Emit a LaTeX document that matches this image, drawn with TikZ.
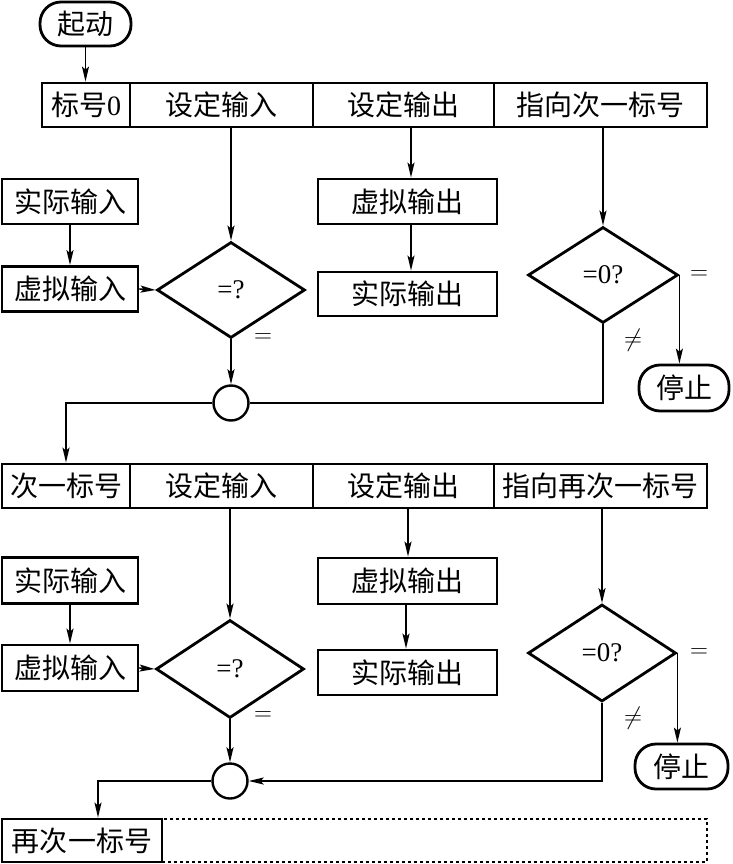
\documentclass[tikz,border=0pt]{standalone}
\usepackage{fontspec}
\setmainfont{Liberation Serif}
\newfontfamily\cjk{Noto Sans CJK SC}
\usetikzlibrary{arrows.meta,shapes.geometric}
\tikzset{
  box/.style={draw, line width=2.8pt, inner sep=0pt, font=\cjk\fontsize{28}{30}\selectfont},
  term/.style={box, rounded corners=21pt},
  dec/.style={diamond, draw, line width=2.8pt, inner sep=0pt, font=\fontsize{27}{27}\selectfont},
  junc/.style={circle, draw, line width=2.4pt, minimum size=35pt, inner sep=0pt},
  arr/.style={line width=1.6pt, -{Stealth[length=15pt,width=7pt,inset=3pt]}},
  ln/.style={line width=1.6pt},
  lab/.style={font=\fontsize{28}{28}\selectfont, inner sep=0pt}
}
\begin{document}
\begin{tikzpicture}[x=1pt,y=-1pt]
\useasboundingbox (0,0) rectangle (732,864);
% start
\node[term, minimum width=91pt, minimum height=44pt] (start) at (85.5,24) {起动};
% bar 1
\node[box, minimum width=88pt, minimum height=44pt] (c1) at (86,105) {标号{\rmfamily 0}};
\node[box, minimum width=183pt, minimum height=44pt] (c2) at (221.5,105) {设定输入};
\node[box, minimum width=181pt, minimum height=44pt] (c3) at (403.5,105) {设定输出};
\node[box, minimum width=213pt, minimum height=44pt] (c4) at (600.5,105) {指向次一标号};
% section 1
\node[box, minimum width=136pt, minimum height=45pt] (ai1) at (70,201.5) {实际输入};
\node[box, minimum width=136pt, minimum height=45pt] (vi1) at (70,289) {虚拟输入};
\node[dec, minimum width=148pt, minimum height=96pt] (dia1) at (231,290) {=?};
\node[box, minimum width=179pt, minimum height=45pt] (vo1) at (407.5,201.5) {虚拟输出};
\node[box, minimum width=179pt, minimum height=44pt] (ao1) at (407.5,294) {实际输出};
\node[dec, minimum width=150pt, minimum height=96pt] (dia2) at (603,275) {=0?};
\node[term, minimum width=90pt, minimum height=46pt] (stop1) at (684,388) {停止};
\node[junc] (circ1) at (231,403) {};
\node[lab] (eq1) at (263,338) {$=$};
\node[lab] (eq2) at (699,275) {$=$};
\node[lab] (ne1) at (633,340) {$\neq$};
% bar 2
\node[box, minimum width=128pt, minimum height=44pt] (d1) at (66,486) {次一标号};
\node[box, minimum width=183pt, minimum height=44pt] (d2) at (221.5,486) {设定输入};
\node[box, minimum width=181pt, minimum height=44pt] (d3) at (403.5,486) {设定输出};
\node[box, minimum width=213pt, minimum height=44pt] (d4) at (600.5,486) {指向再次一标号};
% section 2
\node[box, minimum width=136pt, minimum height=46pt] (ai2) at (70,580.5) {实际输入};
\node[box, minimum width=136pt, minimum height=46pt] (vi2) at (70,668) {虚拟输入};
\node[dec, minimum width=148pt, minimum height=98pt] (dia3) at (230,669) {=?};
\node[box, minimum width=179pt, minimum height=46pt] (vo2) at (407.5,581) {虚拟输出};
\node[box, minimum width=179pt, minimum height=45pt] (ao2) at (407.5,672.5) {实际输出};
\node[dec, minimum width=148pt, minimum height=97pt] (dia4) at (602,653) {=0?};
\node[term, minimum width=93pt, minimum height=45pt] (stop2) at (681.5,766.5) {停止};
\node[junc] (circ2) at (230,781) {};
\node[lab] (eq3) at (263,716) {$=$};
\node[lab] (eq4) at (699,653) {$=$};
\node[lab] (ne2) at (633,718) {$\neq$};
% bottom
\node[box, minimum width=160pt, minimum height=43pt] (next) at (82,840.5) {再次一标号};
\node[draw, dashed, line width=1.5pt, minimum width=545pt, minimum height=43pt, inner sep=0pt] (rest) at (434.5,840.5) {};
% connectors section 1
\draw[arr] (start.south) -- (start.south |- c1.north);
\draw[arr] (c2.south -| dia1.north) -- (dia1.north);
\draw[arr] (ai1.south) -- (vi1.north);
\draw[arr] (vi1.east) -- (dia1.west);
\draw[arr] (dia1.south) -- (circ1.north);
\draw[arr] ([xshift=3.5pt]c3.south -| vo1.north) -- ([xshift=3.5pt]vo1.north);
\draw[arr] ([xshift=3.5pt]vo1.south) -- ([xshift=3.5pt]ao1.north);
\draw[arr] (c4.south -| dia2.north) -- (dia2.north);
\draw[arr] (dia2.east) -- (dia2.east |- stop1.north);
\draw[ln] (dia2.south) |- (circ1.east);
\draw[arr] (circ1.west) -| (d1.north);
% connectors section 2
\draw[arr] (d2.south -| dia3.north) -- (dia3.north);
\draw[arr] (ai2.south) -- (vi2.north);
\draw[arr] (vi2.east) -- (dia3.west);
\draw[arr] (dia3.south) -- (circ2.north);
\draw[arr] ([xshift=0.5pt]d3.south -| vo2.north) -- ([xshift=0.5pt]vo2.north);
\draw[arr] ([xshift=-1.5pt]vo2.south) -- ([xshift=-1.5pt]ao2.north);
\draw[arr] (d4.south -| dia4.north) -- (dia4.north);
\draw[arr] (dia4.east) -- (dia4.east |- stop2.north);
\draw[arr] (dia4.south) |- (circ2.east);
\draw[arr] (circ2.west) -| ([xshift=16pt]next.north);
\end{tikzpicture}
\end{document}
